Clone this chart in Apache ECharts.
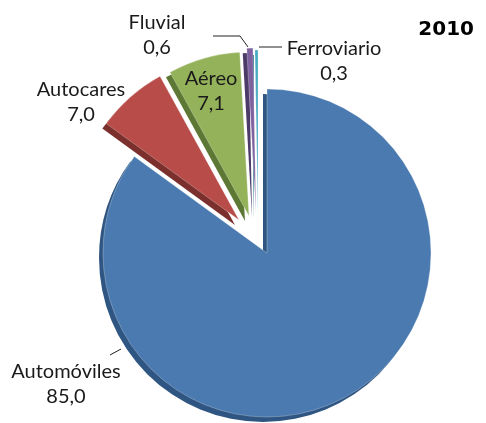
<!DOCTYPE html>
<html><head><meta charset="utf-8">
<script src="https://cdn.jsdelivr.net/npm/echarts@6/dist/echarts.min.js"></script>
<style>html,body{margin:0;padding:0;background:#fff}#c{width:486px;height:423px}</style>
</head><body><div id="c"></div>
<script>
const categories = ['Automóviles', 'Autocares', 'Aéreo', 'Fluvial', 'Ferroviario'];
const values = [85.0, 7.0, 7.1, 0.6, 0.3];
const titleText = '2010';

const topColors = ['#4A7AB0', '#B84C48', '#94B25A', '#7E62A0', '#47A9C2'];
const sideColors = ['#2F5582', '#7C302D', '#5C7834', '#4C3B68', '#2B7688'];

// explosion shift of each slice (styling)
const explodeShift = [[0, 0], [-28, -33], [-18, -37], [-11, -41], [-9, -39]];
const sideShift = [-4, 5];
const baseCenter = [267, 253];
const radius = 164;

const labelPos = {
  'Automóviles': {x: 66, y: 384, line: [[121, 349], [110, 355], [110, 355]]},
  'Autocares': {x: 81, y: 102},
  'Aéreo': {x: 211, y: 91},
  'Fluvial': {x: 157, y: 35, line: [[248, 47], [240, 36], [213, 36]]},
  'Ferroviario': {x: 334, y: 61, line: [[259, 47], [259, 47], [282, 47]]}
};

const fmt = v => v.toFixed(1).replace('.', ',');
const transparent = 'rgba(0,0,0,0)';

function sliceSeries(i, side) {
  const c = [baseCenter[0] + explodeShift[i][0] + (side ? sideShift[0] : 0),
             baseCenter[1] + explodeShift[i][1] + (side ? sideShift[1] : 0)];
  return {
    type: 'pie', silent: true, z: side ? 1 : 2,
    center: c, radius: radius, startAngle: 90, clockwise: true,
    label: {show: false}, labelLine: {show: false},
    data: categories.map((n, j) => ({
      name: n, value: values[j],
      itemStyle: j === i
        ? {color: side ? sideColors[j] : topColors[j],
           borderColor: side ? sideColors[j] : 'rgba(255,255,255,0.35)', borderWidth: side ? 0 : 0.8}
        : {color: transparent, borderWidth: 0}
    }))
  };
}

const series = [];
categories.forEach((n, i) => series.push(sliceSeries(i, true)));
categories.forEach((n, i) => series.push(sliceSeries(i, false)));

series.push({
  type: 'pie', silent: true, z: 3,
  center: baseCenter, radius: radius, startAngle: 90, clockwise: true,
  avoidLabelOverlap: false,
  itemStyle: {color: transparent, borderWidth: 0},
  label: {
    show: true, color: '#1a1a1a', fontSize: 20, lineHeight: 25,
    fontFamily: 'Lato', align: 'center', overflow: 'none', width: 200,
    formatter: p => p.name + '\n' + fmt(p.value)
  },
  labelLine: {show: true, lineStyle: {color: '#222', width: 1}, length: 5, length2: 5},
  labelLayout: function (p) {
    const lp = labelPos[categories[p.dataIndex]];
    const r = {x: lp.x, y: lp.y, align: 'center', verticalAlign: 'middle'};
    if (lp.line) r.labelLinePoints = lp.line;
    return r;
  },
  data: categories.map((n, i) => ({
    name: n, value: values[i],
    labelLine: {show: !!labelPos[n].line}
  }))
});

const chart = echarts.init(document.getElementById('c'), null, {renderer: 'canvas'});
chart.setOption({
  animation: false,
  title: {
    text: titleText, right: 7, top: 15,
    textStyle: {fontFamily: 'DejaVu Sans', fontWeight: 900, fontSize: 20, color: '#000'}
  },
  series: series
});
</script></body></html>
